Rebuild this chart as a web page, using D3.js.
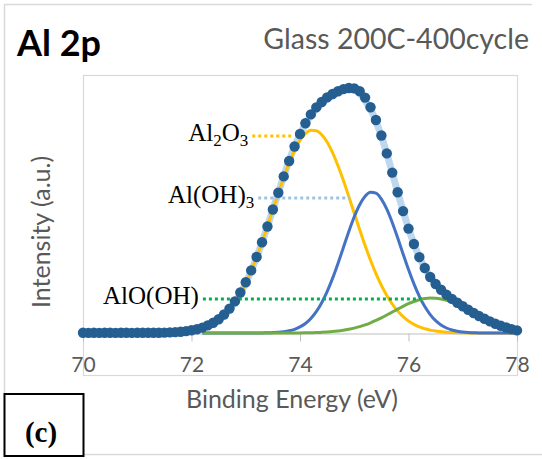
<!DOCTYPE html>
<html>
<head>
<meta charset="utf-8">
<script src="https://cdn.jsdelivr.net/npm/d3@7/dist/d3.min.js"></script>
<style>
	body { margin: 0; background: #fff; }
	svg { display: block; }
</style>
</head>
<body>
<div id="chart"></div>
<script>
// binding energy grid (eV), 0.1 eV steps
var energy = d3.range(700, 781).map(function(d){ return d / 10; });      // 70.0 - 78.0
var fitEnergy = d3.range(722, 781).map(function(d){ return d / 10; });   // 72.2 - 78.0

// measured counts (dots), 70.0 - 78.0
var counts = [
	0.2, 0.1, 0.2, 0.1, 0.2, 0.2, 0.1, 0.2, 0.2, 0.1, 0.2, 0.2, 0.3, 0.2, 0.3,
	0.4, 0.6, 0.9, 1.3, 1.9,
	2.7, 3.8, 5.4, 7.6, 10.3, 13.8, 18.5, 24.4, 31.6, 40.5,
	50.8, 62.6, 76.0, 90.8, 106.5, 123.5, 140.2, 156.6, 172.0, 186.5,
	199.0, 209.8, 218.6, 225.6, 231.0, 235.6, 239.0, 241.8, 243.9, 245.0,
	244.6, 241.8, 235.4, 225.8, 213.0, 197.5, 179.6, 160.4, 140.8, 121.9,
	104.4, 89.0, 75.9, 65.0, 56.0, 49.0, 43.2, 38.3, 34.1, 30.3,
	26.7, 23.3, 20.0, 17.0, 14.2, 11.6, 9.3, 7.3, 5.5, 3.9,
	2.6
];

// fit envelope, 72.2 - 78.0
var envelope = [
	4.6, 6.5, 9.2, 12.8, 17.4, 23.3, 30.6, 39.4,
	49.9, 62.0, 75.6, 90.6, 106.6, 123.5, 140.4, 156.8, 172.3, 186.4,
	198.8, 209.1, 217.5, 224.1, 229.2, 234.0, 237.5, 240.5, 242.8, 243.8,
	243.2, 240.2, 232.5, 223.8, 211.8, 196.8, 179.4, 160.4, 141.0, 122.2,
	104.7, 89.2, 76.0, 65.1, 56.2, 49.1, 43.3, 38.4, 34.2, 30.4,
	26.8, 23.4, 20.1, 17.1, 14.2, 11.6, 9.4, 7.4, 5.7, 4.4,
	3.3
];

// fitted components, 72.2 - 78.0
var al2o3 = [
	4.5, 6.5, 9.2, 12.8, 17.4, 23.3, 30.6, 39.4,
	49.9, 62.0, 75.6, 90.6, 106.6, 123.1, 139.7, 155.5, 170.1, 182.7,
	192.6, 199.4, 202.7, 202.3, 198.3, 190.9, 180.3, 167.3, 152.5, 136.4,
	119.8, 103.3, 87.5, 72.8, 59.4, 47.6, 37.5, 29.0, 22.0, 16.4,
	12.0, 8.6, 6.1, 4.2, 2.9, 1.9, 1.3, 0.8, 0.5, 0.3,
	0.2, 0.1, 0.1, 0, 0, 0, 0, 0, 0, 0,
	0
];
var aloh3 = [
	0, 0, 0, 0, 0, 0, 0, 0,
	0, 0, 0, 0.1, 0.2, 0.4, 0.7, 1.3, 2.2, 3.7,
	6.1, 9.5, 14.5, 21.3, 30.3, 41.4, 54.6, 69.6, 85.5, 101.5,
	116.2, 128.3, 136.8, 140.8, 139.8, 133.9, 123.8, 110.5, 95.2, 79.1,
	63.4, 49.1, 36.7, 26.4, 18.4, 12.3, 8.0, 5.0, 3.0, 1.8,
	1.0, 0.5, 0.3, 0.1, 0.1, 0, 0, 0, 0, 0,
	0
];
var alooh = [
	0, 0, 0, 0, 0, 0, 0, 0,
	0, 0, 0, 0, 0, 0, 0, 0, 0.1, 0.1,
	0.1, 0.2, 0.3, 0.4, 0.7, 1.0, 1.4, 2.0, 2.7, 3.7,
	4.9, 6.4, 8.1, 10.2, 12.6, 15.2, 18.0, 20.9, 23.9, 26.7,
	29.3, 31.5, 33.3, 34.4, 35.0, 34.8, 34.0, 32.6, 30.7, 28.3,
	25.6, 22.7, 19.8, 16.9, 14.1, 11.6, 9.4, 7.4, 5.7, 4.4,
	3.3
];

var xTicks = [70, 72, 74, 76, 78];

// annotation labels: text parts, leader start/end energy, leader intensity
var labelParts = [
	[["Al", 0], ["2", 1], ["O", 0], ["3", 1]],
	[["Al(OH)", 0], ["3", 1]],
	[["AlO(OH)", 0]]
];
var leaderFrom = [73.12, 73.23, 72.21];
var leaderTo   = [73.87, 74.92, 76.25];
var leaderAt   = [197, 135, 34];
var leaderColors = ["#ffc000", "#9dc3e6", "#00b050"];

var width = 542, height = 459;
var plot = {left: 83, right: 517, top: 75, base: 333, bottom: 375};

var svg = d3.select("#chart").append("svg")
	.attr("width", width)
	.attr("height", height);

// outer frame (cropped excel chart area)
svg.append("path")
	.attr("d", "M532,4.5 H4.5 V454.5 H542")
	.attr("fill", "none")
	.attr("stroke", "#d9d9d9")
	.attr("stroke-width", 1.5);

// plot area box
svg.append("rect")
	.attr("x", plot.left + 0.5).attr("y", plot.top + 0.5)
	.attr("width", plot.right - plot.left).attr("height", plot.bottom - plot.top)
	.attr("fill", "none")
	.attr("stroke", "#d9d9d9")
	.attr("stroke-width", 1.2);

var x = d3.scaleLinear().domain([70, 78]).range([plot.left, plot.right]);
var y = d3.scaleLinear().domain([0, 258]).range([plot.base, plot.top]);

var xAxis = svg.append("g")
	.attr("transform", "translate(0," + (plot.base + 0.5) + ")")
	.call(d3.axisBottom(x).tickValues(xTicks).tickSize(8).tickSizeOuter(0));
xAxis.select(".domain").attr("stroke", "#bfbfbf");
xAxis.selectAll(".tick line").attr("stroke", "#bfbfbf");
xAxis.selectAll(".tick text")
	.attr("y", 38.5).attr("dy", 0)
	.attr("fill", "#595959")
	.style("font-family", "Lato, 'Open Sans', sans-serif")
	.style("font-size", "21px");

var fitLine = d3.line()
	.x(function(d, i){ return x(fitEnergy[i]); })
	.y(function(d){ return y(d); })
	.curve(d3.curveMonotoneX);

// envelope
svg.append("path")
	.datum(envelope)
	.attr("d", fitLine)
	.attr("fill", "none")
	.attr("stroke", "#bdd7ee")
	.attr("stroke-width", 7);

var comps = [al2o3, aloh3, alooh];
var compColors = ["#ffc000", "#4472c4", "#70ad47"];
comps.forEach(function(c, i){
	svg.append("path")
		.datum(c)
		.attr("d", fitLine)
		.attr("fill", "none")
		.attr("stroke", compColors[i])
		.attr("stroke-width", 3);
});

// leader lines
labelParts.forEach(function(parts, i){
	svg.append("line")
		.attr("x1", x(leaderFrom[i])).attr("x2", x(leaderTo[i]))
		.attr("y1", y(leaderAt[i])).attr("y2", y(leaderAt[i]))
		.attr("stroke", leaderColors[i])
		.attr("stroke-width", 3)
		.attr("stroke-dasharray", "3,3");
});

// data points
svg.append("g").selectAll("circle")
	.data(counts)
	.enter().append("circle")
	.attr("cx", function(d, i){ return x(energy[i]); })
	.attr("cy", function(d){ return y(d); })
	.attr("r", 5.2)
	.attr("fill", "#255e91");

// labels
labelParts.forEach(function(parts, i){
	var t = svg.append("text")
		.attr("x", x(leaderFrom[i]) - 4)
		.attr("y", y(leaderAt[i]) + 5)
		.attr("text-anchor", "end")
		.attr("fill", "#000")
		.style("font-family", "'Liberation Serif', 'Times New Roman', serif")
		.style("font-size", "25px");
	var shifted = 0;
	parts.forEach(function(p){
		var s = t.append("tspan").text(p[0]);
		if (p[1]) {
			s.attr("dy", 5 - shifted).style("font-size", "17px");
			shifted = 5;
		} else {
			s.attr("dy", -shifted);
			shifted = 0;
		}
	});
});

// titles
svg.append("text")
	.attr("x", 17).attr("y", 56)
	.style("font-family", "Lato, 'Open Sans', sans-serif")
	.style("font-weight", "bold")
	.style("font-size", "36px")
	.attr("fill", "#000")
	.text("Al 2p");

svg.append("text")
	.attr("x", 529).attr("y", 49)
	.attr("text-anchor", "end")
	.style("font-family", "Lato, 'Open Sans', sans-serif")
	.style("font-size", "28.5px")
	.attr("fill", "#595959")
	.text("Glass 200C-400cycle");

svg.append("text")
	.attr("x", 292).attr("y", 408)
	.attr("text-anchor", "middle")
	.style("font-family", "Lato, 'Open Sans', sans-serif")
	.style("font-size", "25px")
	.attr("fill", "#595959")
	.text("Binding Energy (eV)");

svg.append("text")
	.attr("transform", "translate(50,232) rotate(-90)")
	.attr("text-anchor", "middle")
	.style("font-family", "Lato, 'Open Sans', sans-serif")
	.style("font-size", "25px")
	.attr("fill", "#595959")
	.text("Intensity (a.u.)");

// panel tag
svg.append("rect")
	.attr("x", 4.5).attr("y", 394)
	.attr("width", 79).attr("height", 62)
	.attr("fill", "#fff")
	.attr("stroke", "#000")
	.attr("stroke-width", 2);

svg.append("text")
	.attr("x", 41).attr("y", 442)
	.attr("text-anchor", "middle")
	.style("font-family", "'Liberation Serif', 'Times New Roman', serif")
	.style("font-weight", "bold")
	.style("font-size", "29px")
	.attr("fill", "#000")
	.text("(c)");
</script>
</body>
</html>
